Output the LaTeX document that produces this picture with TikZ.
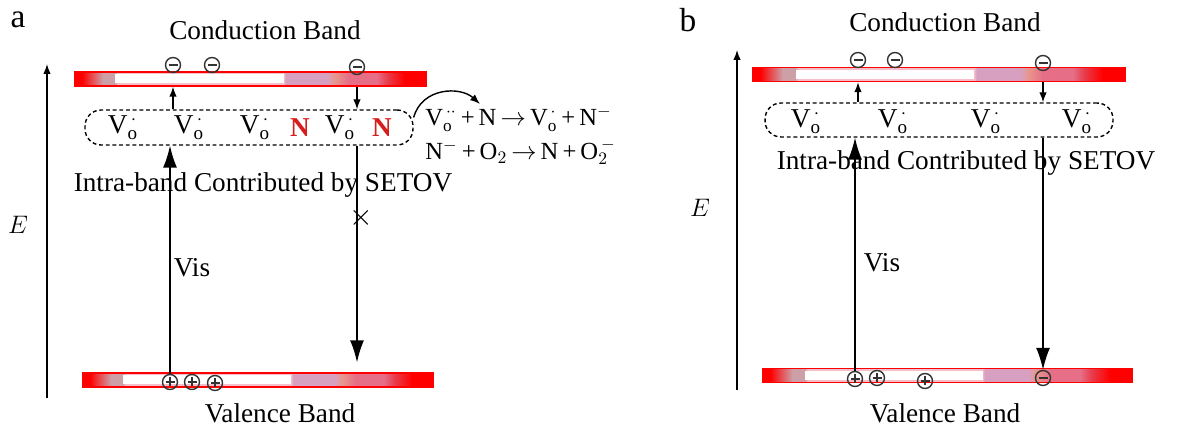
\documentclass[tikz,border=0pt]{standalone}
\usepackage{fontspec}
\setmainfont{Liberation Serif}
\usetikzlibrary{arrows.meta,positioning,calc}
\definecolor{bandgrey}{RGB}{205,160,168}
\definecolor{bandpink}{RGB}{244,190,202}
\definecolor{bandlilac}{RGB}{216,160,192}
\definecolor{bandsalmon}{RGB}{232,150,140}
\definecolor{bandrose}{RGB}{230,110,135}
\definecolor{bandred}{RGB}{232,60,75}
\definecolor{nred}{RGB}{215,30,30}
\pgfdeclarehorizontalshading{bandshade}{100bp}{color(0bp)=(red); color(26bp)=(red); color(29bp)=(bandgrey); color(30.75bp)=(bandgrey); color(31bp)=(bandpink); color(54.75bp)=(bandpink); color(55bp)=(bandlilac); color(61bp)=(bandlilac); color(62bp)=(bandsalmon); color(64bp)=(bandrose); color(68bp)=(bandrose); color(69.5bp)=(bandred); color(72bp)=(red); color(100bp)=(red)}
\def\Vo{V$_{\mathrm{o}}^{\,\cdot}$}
\def\Vtwo{V$_{\mathrm{o}}^{\,\cdot\cdot}$}
\def\Nr{\textcolor{nred}{\textbf{N}}}

\begin{document}
\begin{tikzpicture}[x=0.02cm,y=-0.02cm,>={Latex[length=2mm,width=1.5mm]},font=\fontsize{15.5}{18}\selectfont]
    \tikzstyle{band}=[rectangle,draw=red,thick,shading=bandshade,inner sep=0pt,minimum height=2.8mm,
        path picture={\fill[white] ($(path picture bounding box.south west)!0.115!(path picture bounding box.south east)+(0,0.5mm)$) rectangle ($(path picture bounding box.north west)!0.595!(path picture bounding box.north east)+(0,-0.5mm)$);}]
    \tikzstyle{vbox}=[draw,rounded corners=3.2mm,dash pattern=on 2.2pt off 1.6pt,line width=0.8pt,inner sep=0pt]
    \tikzstyle{carrier}=[circle,draw=black!80,line width=0.8pt,inner sep=0pt,minimum size=3mm]
    \tikzstyle{elec}=[carrier,path picture={\draw[line width=1.1pt] ([xshift=-0.9mm]path picture bounding box.center) -- ([xshift=0.9mm]path picture bounding box.center);}]
    \tikzstyle{hole}=[carrier,path picture={\draw[line width=0.8pt] ([xshift=-0.9mm]path picture bounding box.center) -- ([xshift=0.9mm]path picture bounding box.center) ([yshift=-0.9mm]path picture bounding box.center) -- ([yshift=0.9mm]path picture bounding box.center);}]
    \tikzstyle{hop}=[->,line width=0.8pt]
    \tikzstyle{excite}=[-{Latex[length=4.4mm,width=2.8mm]},line width=0.8pt]
    \tikzstyle{reaction}=[anchor=west,inner sep=0pt,font=\fontsize{14}{15}\selectfont]
    \useasboundingbox (0,0) rectangle (1185,431);

    % panel a
    \begin{scope}
        \node (labA) at (18,20) {\fontsize{19}{22}\selectfont a};
        \coordinate (axA0) at (47,398);
        \coordinate (axA1) at (47,64);
        \draw[->,line width=0.8pt] (axA0) -- (axA1);
        \node (EA) at (18,225) {$E$};
        \node[band,minimum width=7.02cm] (cbA) at (250.5,79) {};
        \node[band,minimum width=7.0cm] (vbA) at (258,380) {};
        \node (cbAtext) at (265,30) {Conduction Band};
        \node (vbAtext) at (280,413) {Valence Band};
        \node[elec] (eA1) at (173,65) {};
        \node[elec] (eA2) at (212,65) {};
        \node[elec] (eA3) at (357,67) {};
        \node[hole] (hA1) at (170,382) {};
        \node[hole] (hA2) at (192,382) {};
        \node[hole] (hA3) at (215,383) {};
        \node[vbox,minimum width=6.56cm,minimum height=0.7cm] (boxA) at (249,127.5) {};
        \node (vA1) at (123,128) {\Vo};
        \node (vA2) at (189,128) {\Vo};
        \node (vA3) at (255,128) {\Vo};
        \node (nA1) at (300,128) {\Nr};
        \node (vA4) at (340,128) {\Vo};
        \node (nA2) at (382,128) {\Nr};
        \draw[hop] (boxA.north -| eA1) -- (cbA.south -| eA1);
        \draw[hop] (cbA.south -| eA3) -- (boxA.north -| eA3);
        \draw[excite] (hA1.north) -- (boxA.south -| hA1);
        \draw[excite,shorten >=2mm] (boxA.south -| eA3) -- (vbA.north -| eA3);
        \node (sepA) at (263,185) {Intra-band Contributed by SETOV};
        \node (visA) at (192,268) {Vis};
        \node (crossA) at (361,218) {\fontsize{17}{17}\selectfont$\times$};
        \node[reaction] (reacA1) at (425,119) {\Vtwo\,+\,N\,$\rightarrow$\,\Vo\,+\,N$^{-}$};
        \node[reaction] (reacA2) at (425,152) {N$^{-}$\,+\,O$_2$\,$\rightarrow$\,N\,+\,O$_2^{\,-}$};
        \coordinate (tipA) at (480,104);
        \draw[->,line width=0.8pt] ([yshift=2mm]boxA.east) .. controls +(8,-30) and +(-20,-18) .. (tipA);
    \end{scope}

    % panel b
    \begin{scope}
        \node (labB) at (688,20) {\fontsize{19}{22}\selectfont b};
        \coordinate (axB0) at (737,390);
        \coordinate (axB1) at (737,50);
        \draw[->,line width=0.8pt] (axB0) -- (axB1);
        \node (EB) at (700,208) {$E$};
        \node[band,minimum width=7.44cm] (cbB) at (939,74.5) {};
        \node[band,minimum width=7.38cm] (vbB) at (947.5,375.5) {};
        \node (cbBtext) at (945,22) {Conduction Band};
        \node (vbBtext) at (945,413) {Valence Band};
        \node[elec] (eB1) at (858,60) {};
        \node[elec] (eB2) at (895,60) {};
        \node[elec] (eB3) at (1043,63) {};
        \node[hole] (hB1) at (855,379) {};
        \node[hole] (hB2) at (877,378) {};
        \node[hole] (hB3) at (925,381) {};
        \node[elec] (eB4) at (1043,378) {};
        \node[vbox,minimum width=6.96cm,minimum height=0.68cm] (boxB) at (939,120) {};
        \node (vB1) at (806,122) {\Vo};
        \node (vB2) at (893,122) {\Vo};
        \node (vB3) at (986,122) {\Vo};
        \node (vB4) at (1077,122) {\Vo};
        \draw[hop] (boxB.north -| eB1) -- (cbB.south -| eB1);
        \draw[hop] (cbB.south -| eB3) -- (boxB.north -| eB3);
        \draw[excite] (hB1.north) -- (boxB.south -| hB1);
        \draw[excite] (boxB.south -| eB3) -- (eB4.north);
        \node (sepB) at (966,163) {Intra-band Contributed by SETOV};
        \node (visB) at (882,263) {Vis};
    \end{scope}
\end{tikzpicture}
\end{document}
